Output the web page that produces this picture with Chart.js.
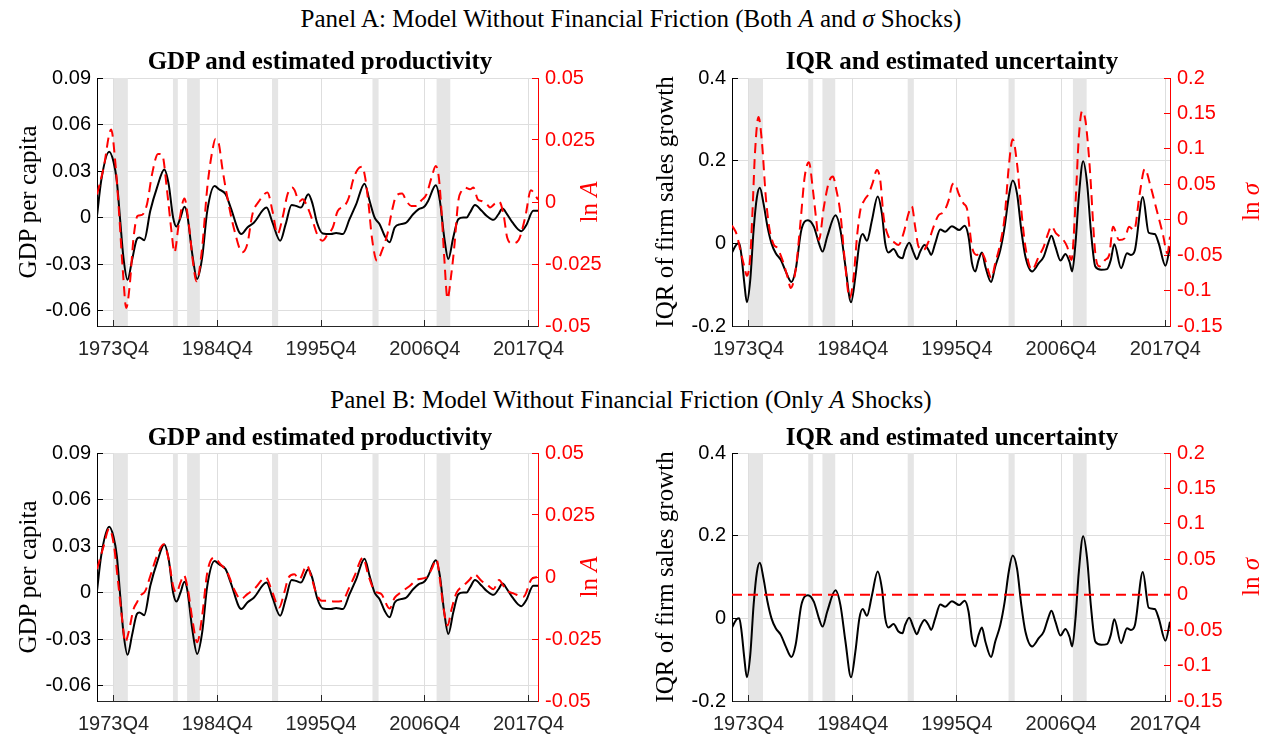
<!DOCTYPE html>
<html>
<head>
<meta charset="utf-8">
<script src="https://cdn.jsdelivr.net/npm/chart.js@4.4.1/dist/chart.umd.min.js"></script>
<style>
  html, body { margin: 0; padding: 0; background: #fff; }
  body { width: 1262px; height: 734px; position: relative; overflow: hidden; }
  canvas { position: absolute; display: block; }
  .txt { position: absolute; white-space: nowrap; line-height: 1; transform: translate(-50%, -50%); font-family: 'Liberation Serif', serif; color: #000; }
  .head { font-size: 25px; }
  .title { font-size: 25px; font-weight: bold; }
  .ylab { font-size: 25px; transform: translate(-50%, -50%) rotate(-90deg); }
  .red { color: #ff0000; }
</style>
</head>
<body>
<div class="txt head" style="left:631px; top:18px;">Panel A: Model Without Financial Friction (Both <i>A</i> and <i>σ</i> Shocks)</div>
<div class="txt head" style="left:631px; top:399px;">Panel B: Model Without Financial Friction (Only <i>A</i> Shocks)</div>

<canvas id="chartA1" width="631" height="330" style="left:0; top:40px;"></canvas>
<canvas id="chartA2" width="631" height="330" style="left:631px; top:40px;"></canvas>
<canvas id="chartB1" width="631" height="330" style="left:0; top:415px;"></canvas>
<canvas id="chartB2" width="631" height="330" style="left:631px; top:415px;"></canvas>

<div class="txt title" style="left:320px; top:60px;">GDP and estimated productivity</div>
<div class="txt title" style="left:952px; top:60px;">IQR and estimated uncertainty</div>
<div class="txt title" style="left:320px; top:436px;">GDP and estimated productivity</div>
<div class="txt title" style="left:952px; top:436px;">IQR and estimated uncertainty</div>

<div class="txt ylab" style="left:27px; top:202px;">GDP per capita</div>
<div class="txt ylab" style="left:664px; top:202px;">IQR of firm sales growth</div>
<div class="txt ylab" style="left:27px; top:577px;">GDP per capita</div>
<div class="txt ylab" style="left:664px; top:577px;">IQR of firm sales growth</div>

<div class="txt ylab red" style="left:588px; top:202px;">ln <i>A</i></div>
<div class="txt ylab red" style="left:1250px; top:202px;">ln <i>σ</i></div>
<div class="txt ylab red" style="left:588px; top:577px;">ln <i>A</i></div>
<div class="txt ylab red" style="left:1250px; top:577px;">ln <i>σ</i></div>

<script>
const xTickValues = [1973.75, 1984.75, 1995.75, 2006.75, 2017.75];
const xTickLabels = ['1973Q4', '1984Q4', '1995Q4', '2006Q4', '2017Q4'];

const gdpTicks = [-0.06, -0.03, 0, 0.03, 0.06, 0.09];
const gdpTickLabels = ['-0.06', '-0.03', '0', '0.03', '0.06', '0.09'];
const lnATicks = [-0.05, -0.025, 0, 0.025, 0.05];
const lnATickLabels = ['-0.05', '-0.025', '0', '0.025', '0.05'];
const iqrTicks = [-0.2, 0, 0.2, 0.4];
const iqrTickLabels = ['-0.2', '0', '0.2', '0.4'];
const lnSigmaTicks = [-0.15, -0.1, -0.05, 0, 0.05, 0.1, 0.15, 0.2];
const lnSigmaTickLabels = ['-0.15', '-0.1', '-0.05', '0', '0.05', '0.1', '0.15', '0.2'];

// NBER recessions (shaded)
const recessionStart = [1973.8, 1980.05, 1981.55, 1990.55, 2001.2, 2008.0];
const recessionEnd = [1975.27, 1980.57, 1982.9, 1991.2, 2001.85, 2009.45];

// GDP per capita (black, both panels)
const gdpYears = [1972.0, 1972.45, 1973.29, 1973.75, 1974.1, 1974.46, 1974.8, 1975.24, 1975.7, 1976.23,
  1976.5, 1977.0, 1977.65, 1978.36, 1979.14, 1979.6, 1980.07, 1980.42, 1980.85, 1981.27,
  1981.56, 1982.1, 1982.62, 1983.15, 1983.69, 1984.47, 1984.93, 1985.64, 1986.17, 1987.3,
  1987.94, 1988.65, 1989.97, 1990.6, 1991.42, 1992.0, 1992.63, 1993.09, 1993.62, 1994.4,
  1994.86, 1995.32, 1995.93, 1996.81, 1997.35, 1998.06, 1998.77, 1999.48, 2000.36, 2000.9,
  2001.43, 2001.96, 2002.49, 2003.02, 2003.56, 2004.2, 2004.8, 2005.51, 2006.11, 2006.68,
  2007.1, 2007.92, 2008.35, 2008.81, 2009.24, 2009.77, 2010.3, 2010.83, 2011.19, 2011.54,
  2012.07, 2012.78, 2013.32, 2014.03, 2014.56, 2014.98, 2015.48, 2016.0, 2016.98, 2017.5,
  2018.25, 2018.75];
const gdpVals = [0.001, 0.024, 0.0424, 0.036, 0.0236, -0.002, -0.0257, -0.0402, -0.028, -0.0139,
  -0.0129, -0.0146, 0.0043, 0.0193, 0.031, 0.0214, 0.0, -0.0058, 0.0, 0.0069,
  0.002, -0.0236, -0.0396, -0.0257, 0.0043, 0.0203, 0.0182, 0.015, 0.0064, -0.0107,
  -0.0064, -0.0032, 0.0064, -0.0032, -0.015, -0.0043, 0.0081, 0.0075, 0.0064, 0.015,
  0.0086, -0.0032, -0.0103, -0.0107, -0.010, -0.0107, -0.0011, 0.0086, 0.0218, 0.0107,
  0.0, -0.0043, -0.0118, -0.016, -0.0064, -0.0043, -0.0032, 0.0021, 0.0054, 0.0069,
  0.0107, 0.0208, 0.0107, -0.0128, -0.0268, -0.0128, -0.0011, 0.0, 0.0, 0.0032,
  0.0081, 0.0043, 0.001, -0.0015, 0.0021, 0.0058, 0.002, -0.0028, -0.0088, -0.005,
  0.0043, 0.0043];

// ln A, both shocks (red, panel A)
const lnABothYears = [1972.0, 1972.7, 1973.5, 1973.93, 1974.35, 1974.74, 1975.1, 1975.45, 1975.88, 1976.3,
  1976.77, 1977.3, 1977.83, 1978.47, 1978.9, 1979.43, 1979.89, 1980.21, 1980.67, 1981.27,
  1981.73, 1982.2, 1982.55, 1983.15, 1983.69, 1984.22, 1984.57, 1984.93, 1985.28, 1985.82,
  1986.53, 1987.41, 1987.94, 1988.48, 1989.19, 1990.07, 1990.6, 1991.14, 1991.67, 1992.2,
  1992.7, 1992.95, 1993.44, 1993.8, 1994.33, 1994.86, 1995.4, 1995.93, 1996.46, 1996.99,
  1997.52, 1998.23, 1998.7, 1999.12, 1999.65, 2000.11, 2000.43, 2000.79, 2001.14, 2001.68,
  2002.21, 2002.78, 2003.27, 2003.73, 2004.34, 2004.8, 2005.33, 2005.86, 2006.33, 2006.93,
  2007.46, 2007.92, 2008.24, 2008.52, 2008.81, 2009.16, 2009.52, 2009.87, 2010.3, 2010.65,
  2011.01, 2011.54, 2011.9, 2012.36, 2012.78, 2013.32, 2013.67, 2014.2, 2014.63, 2015.09,
  2015.48, 2016.0, 2016.7, 2017.4, 2018.0, 2018.75];
const lnABothVals = [0.003, 0.0138, 0.0292, 0.0165, -0.005, -0.0277, -0.0427, -0.0343, -0.0143, -0.0056,
  -0.0052, -0.0009, 0.0111, 0.0194, 0.0192, 0.0045, -0.0116, -0.0203, -0.0089, 0.0014,
  -0.0089, -0.025, -0.032, -0.0183, 0.0058, 0.0205, 0.0255, 0.0232, 0.0138, 0.0018,
  -0.0109, -0.0203, -0.0169, -0.0049, 0.0004, 0.0038, -0.0036, -0.0129, -0.0063, 0.0031,
  0.0058, 0.0047, 0.0002, 0.0011, -0.0022, -0.0076, -0.0136, -0.0156, -0.013, -0.0103,
  -0.0036, -0.0016, 0.0018, 0.0085, 0.0132, 0.0142, 0.0098, -0.0009, -0.0143, -0.0237,
  -0.0196, -0.013, -0.0036, 0.0025, 0.0034, 0.0004, -0.0016, -0.0016, 0.0004, 0.0031,
  0.0098, 0.0145, 0.0098, -0.0036, -0.0223, -0.039, -0.0303, -0.0183, 0.0004, 0.0045,
  0.0058, 0.0051, 0.0058, 0.0011, 0.0004, -0.0009, -0.0022, -0.0006, 0.0002, -0.0049,
  -0.0143, -0.0167, -0.0153, -0.006, 0.0047, 0.001];

// ln A, only A shocks (red, panel B)
const lnAOnlyYears = [1972.0, 1972.7, 1973.29, 1973.75, 1974.28, 1974.74, 1974.99, 1975.35, 1975.88, 1976.23,
  1976.59, 1977.12, 1977.65, 1978.36, 1979.07, 1979.6, 1980.07, 1980.42, 1980.85, 1981.2,
  1981.63, 1982.1, 1982.62, 1983.15, 1983.69, 1984.4, 1985.1, 1985.82, 1986.53, 1987.24,
  1987.94, 1988.65, 1989.9, 1990.6, 1991.31, 1991.85, 1992.31, 1992.91, 1993.44, 1994.26,
  1994.69, 1995.22, 1995.82, 1996.46, 1997.17, 1998.06, 1998.59, 1999.3, 2000.19, 2000.79,
  2001.43, 2002.14, 2003.02, 2003.56, 2004.2, 2005.15, 2006.04, 2006.93, 2007.46, 2007.99,
  2008.35, 2008.7, 2009.16, 2009.59, 2010.12, 2010.83, 2011.54, 2012.0, 2012.78, 2013.5,
  2014.03, 2014.63, 2015.09, 2015.48, 2016.2, 2017.2, 2018.1, 2018.75];
const lnAOnlyVals = [0.0031, 0.0124, 0.0195, 0.0138, -0.0036, -0.0196, -0.0263, -0.0223, -0.0129, -0.0103,
  -0.0076, -0.0056, 0.0004, 0.0085, 0.0132, 0.0071, -0.0036, -0.0063, -0.0022, 0.0007,
  -0.0049, -0.0169, -0.0263, -0.0156, 0.0018, 0.0078, 0.0051, 0.0018, -0.0049, -0.0089,
  -0.0069, -0.0049, -0.0002, -0.0063, -0.0123, -0.0063, -0.0002, 0.0011, -0.0009, 0.0047,
  0.0004, -0.0063, -0.0096, -0.0096, -0.0099, -0.0096, -0.0056, 0.0004, 0.0078, 0.0004,
  -0.0056, -0.0069, -0.0127, -0.0083, -0.0063, -0.0036, -0.0009, -0.0002, 0.0031, 0.0071,
  -0.0009, -0.0116, -0.0196, -0.0129, -0.0063, -0.0036, -0.0009, 0.0011, -0.0016, -0.0036,
  -0.0049, -0.0012, -0.0036, -0.0055, -0.0067, -0.008, -0.0007, 0.0];

// IQR of firm sales growth (black, both panels)
const iqrYears = [1972.0, 1972.52, 1972.77, 1973.01, 1973.3, 1973.57, 1973.93, 1974.28, 1974.63, 1974.94,
  1975.33, 1975.75, 1976.17, 1976.62, 1977.15, 1977.67, 1978.27, 1978.72, 1979.32, 1980.02,
  1980.65, 1981.18, 1981.56, 1982.05, 1982.93, 1983.45, 1983.98, 1984.57, 1985.03, 1985.45,
  1985.8, 1986.25, 1986.78, 1987.38, 1987.83, 1988.18, 1988.53, 1989.06, 1989.58, 1990.0,
  1990.28, 1990.71, 1991.17, 1991.52, 1991.87, 1992.33, 1992.75, 1993.03, 1993.46, 1993.99,
  1994.52, 1995.22, 1996.0, 1996.56, 1996.98, 1997.34, 1997.69, 1998.04, 1998.39, 1998.75,
  1999.35, 1999.8, 2000.33, 2000.79, 2001.22, 2001.64, 2002.1, 2002.55, 2002.98, 2003.68,
  2004.39, 2004.92, 2005.38, 2005.73, 2006.15, 2006.68, 2007.21, 2007.63, 2007.92, 2008.27,
  2008.62, 2009.08, 2009.5, 2009.89, 2010.36, 2010.99, 2011.6, 2012.0, 2012.37, 2013.08,
  2013.71, 2014.13, 2014.55, 2015.38, 2016.0, 2016.64, 2017.06, 2017.77, 2018.25];
const iqrVals = [-0.022, -0.0016, 0.0, -0.032, -0.096, -0.1424, -0.088, 0.032, 0.112, 0.1344,
  0.096, 0.04, 0.0, -0.024, -0.04, -0.068, -0.0936, -0.064, 0.032, 0.056,
  0.04, 0.0, -0.02, 0.016, 0.068, 0.032, -0.056, -0.1424, -0.08, 0.0,
  0.0224, 0.0064, 0.056, 0.1136, 0.072, 0.0, -0.0224, -0.0136, -0.032, -0.036,
  -0.016, 0.0016, -0.0224, -0.0384, -0.02, -0.004, -0.016, -0.028, 0.0, 0.0336,
  0.028, 0.0416, 0.032, 0.0424, 0.016, -0.048, -0.068, -0.04, -0.0224, -0.056,
  -0.0936, -0.056, -0.016, 0.04, 0.112, 0.152, 0.12, 0.032, -0.032, -0.068,
  -0.048, -0.032, 0.0, 0.0184, -0.008, -0.0416, -0.0256, -0.044, -0.068, 0.0,
  0.112, 0.1984, 0.144, 0.032, -0.056, -0.064, -0.0624, -0.04, -0.002, -0.06,
  -0.024, -0.028, -0.016, 0.112, 0.0256, 0.0224, 0.0, -0.054, -0.008];

// ln sigma, both shocks (red, panel A)
const lnSigmaBothYears = [1972.0, 1972.52, 1972.87, 1973.3, 1973.57, 1973.93, 1974.17, 1974.42, 1974.8, 1975.15,
  1975.57, 1975.92, 1976.38, 1976.8, 1977.32, 1977.85, 1978.2, 1978.72, 1979.25, 1979.67,
  1980.12, 1980.55, 1980.9, 1981.18, 1981.7, 1982.23, 1982.65, 1983.03, 1983.45, 1983.87,
  1984.43, 1984.85, 1985.2, 1985.55, 1985.97, 1986.43, 1986.88, 1987.3, 1987.66, 1988.01,
  1988.53, 1989.06, 1989.58, 1990.11, 1990.64, 1990.99, 1991.34, 1991.7, 1992.22, 1992.75,
  1993.28, 1993.81, 1994.34, 1994.87, 1995.22, 1995.5, 1995.93, 1996.46, 1996.81, 1997.34,
  1997.87, 1998.22, 1998.68, 1999.03, 1999.38, 1999.8, 2000.33, 2000.79, 2001.22, 2001.64,
  2002.1, 2002.55, 2002.98, 2003.68, 2004.39, 2004.92, 2005.38, 2005.73, 2006.22, 2006.86,
  2007.39, 2007.85, 2008.27, 2008.62, 2008.97, 2009.33, 2009.75, 2010.36, 2010.78, 2011.4,
  2011.83, 2012.24, 2012.87, 2013.5, 2013.92, 2014.46, 2015.05, 2015.59, 2016.22, 2016.85,
  2017.48, 2017.98, 2018.25];
const lnSigmaBothVals = [-0.008, -0.0217, -0.0427, -0.066, -0.079, -0.052, 0.0133, 0.0927, 0.1449, 0.1113,
  0.032, -0.01, -0.0343, -0.0403, -0.0567, -0.08, -0.0963, -0.0707, -0.0007, 0.06,
  0.081, 0.0413, -0.0007, -0.0287, 0.018, 0.053, 0.0609, 0.0413, 0.0087, -0.052,
  -0.1103, -0.08, -0.024, 0.0133, 0.0273, 0.0367, 0.053, 0.0703, 0.0553, 0.004,
  -0.024, -0.031, -0.0357, -0.0193, 0.0087, 0.019, -0.01, -0.038, -0.0427, -0.031,
  -0.01, 0.0063, 0.011, 0.0273, 0.0483, 0.0516, 0.0367, 0.0227, 0.0157, -0.038,
  -0.0497, -0.045, -0.0543, -0.0707, -0.0823, -0.0613, -0.0333, 0.004, 0.074, 0.1137,
  0.0787, 0.0133, -0.038, -0.0707, -0.052, -0.038, -0.0193, -0.0091, -0.0193, -0.0263,
  -0.038, -0.0567, 0.0227, 0.116, 0.1533, 0.1393, 0.0787, -0.047, -0.066, -0.0567,
  -0.05, -0.01, -0.0287, -0.026, -0.01, -0.0147, 0.0367, 0.0717, 0.046, 0.0133,
  -0.0193, -0.0473, -0.024];

// ln sigma, only A shocks (red, panel B) stays at zero
const lnSigmaOnlyYears = [1972.0, 2018.25];
const lnSigmaOnlyVals = [0, 0];

const recessionPlugin = {
  id: 'recessions',
  beforeDatasetsDraw(chart) {
    const { ctx, chartArea, scales } = chart;
    const x = scales.x;
    ctx.save();
    ctx.fillStyle = '#e5e5e5';
    for (let i = 0; i < recessionStart.length; i++) {
      const x0 = x.getPixelForValue(recessionStart[i]);
      const x1 = x.getPixelForValue(recessionEnd[i]);
      ctx.fillRect(x0, chartArea.top, x1 - x0, chartArea.bottom - chartArea.top);
    }
    ctx.restore();
  }
};

function toPoints(xs, ys) {
  return xs.map((v, i) => ({ x: v, y: ys[i] }));
}

const tickFont = { family: "'Liberation Sans', Arial, sans-serif", size: 20 };

function makePanel(id, cfg) {
  return new Chart(document.getElementById(id), {
    type: 'line',
    data: {
      datasets: [
        {
          data: toPoints(cfg.redX, cfg.redY),
          yAxisID: 'y1',
          borderColor: '#ff0000',
          borderWidth: 2,
          borderDash: [10, 6],
          pointRadius: 0,
          cubicInterpolationMode: 'monotone',
          fill: false
        },
        {
          data: toPoints(cfg.blackX, cfg.blackY),
          yAxisID: 'y',
          borderColor: '#000000',
          borderWidth: 2,
          pointRadius: 0,
          cubicInterpolationMode: 'monotone',
          fill: false
        }
      ]
    },
    options: {
      responsive: false,
      animation: false,
      devicePixelRatio: 1,
      events: [],
      layout: { padding: { top: 38, left: 0, right: 0, bottom: 0 } },
      plugins: { legend: { display: false }, tooltip: { enabled: false } },
      scales: {
        x: {
          type: 'linear',
          min: 1972,
          max: cfg.xMax,
          afterBuildTicks: s => { s.ticks = xTickValues.map(v => ({ value: v })); },
          afterFit: s => { s.height = 44; },
          grid: { color: '#dedede', lineWidth: 1, tickLength: -6, tickColor: '#262626', tickWidth: 1 },
          border: { color: '#262626', width: 1 },
          ticks: {
            color: '#262626', font: tickFont, padding: 17, maxRotation: 0, autoSkip: false,
            callback: (v, i) => xTickLabels[i]
          }
        },
        y: {
          position: 'left',
          min: cfg.leftMin,
          max: cfg.leftMax,
          afterBuildTicks: s => { s.ticks = cfg.leftTicks.map(v => ({ value: v })); },
          afterFit: s => { s.width = cfg.leftWidth; },
          grid: { color: '#dedede', lineWidth: 1, tickLength: -6, tickColor: '#000000', tickWidth: 1 },
          border: { color: '#000000', width: 1 },
          ticks: { color: '#000000', font: tickFont, padding: 12, callback: (v, i) => cfg.leftLabels[i] }
        },
        y1: {
          position: 'right',
          min: cfg.rightMin,
          max: cfg.rightMax,
          afterBuildTicks: s => { s.ticks = cfg.rightTicks.map(v => ({ value: v })); },
          afterFit: s => { s.width = cfg.rightWidth; },
          grid: { drawOnChartArea: false, tickLength: -6, tickColor: '#ff0000', tickWidth: 1 },
          border: { color: '#ff0000', width: 1 },
          ticks: { color: '#ff0000', font: tickFont, padding: 13, callback: (v, i) => cfg.rightLabels[i] }
        }
      }
    },
    plugins: [recessionPlugin]
  });
}

const gdpPanel = {
  xMax: 2018.75,
  leftMin: -0.07, leftMax: 0.09, leftTicks: gdpTicks, leftLabels: gdpTickLabels, leftWidth: 97,
  rightMin: -0.05, rightMax: 0.05, rightTicks: lnATicks, rightLabels: lnATickLabels, rightWidth: 93,
  blackX: gdpYears, blackY: gdpVals
};
const iqrPanel = {
  xMax: 2018.25,
  leftMin: -0.2, leftMax: 0.4, leftTicks: iqrTicks, leftLabels: iqrTickLabels, leftWidth: 101,
  rightMin: -0.15, rightMax: 0.2, rightTicks: lnSigmaTicks, rightLabels: lnSigmaTickLabels, rightWidth: 92,
  blackX: iqrYears, blackY: iqrVals
};

makePanel('chartA1', { ...gdpPanel, redX: lnABothYears, redY: lnABothVals });
makePanel('chartA2', { ...iqrPanel, redX: lnSigmaBothYears, redY: lnSigmaBothVals });
makePanel('chartB1', { ...gdpPanel, redX: lnAOnlyYears, redY: lnAOnlyVals });
makePanel('chartB2', { ...iqrPanel, redX: lnSigmaOnlyYears, redY: lnSigmaOnlyVals });
</script>
</body>
</html>
